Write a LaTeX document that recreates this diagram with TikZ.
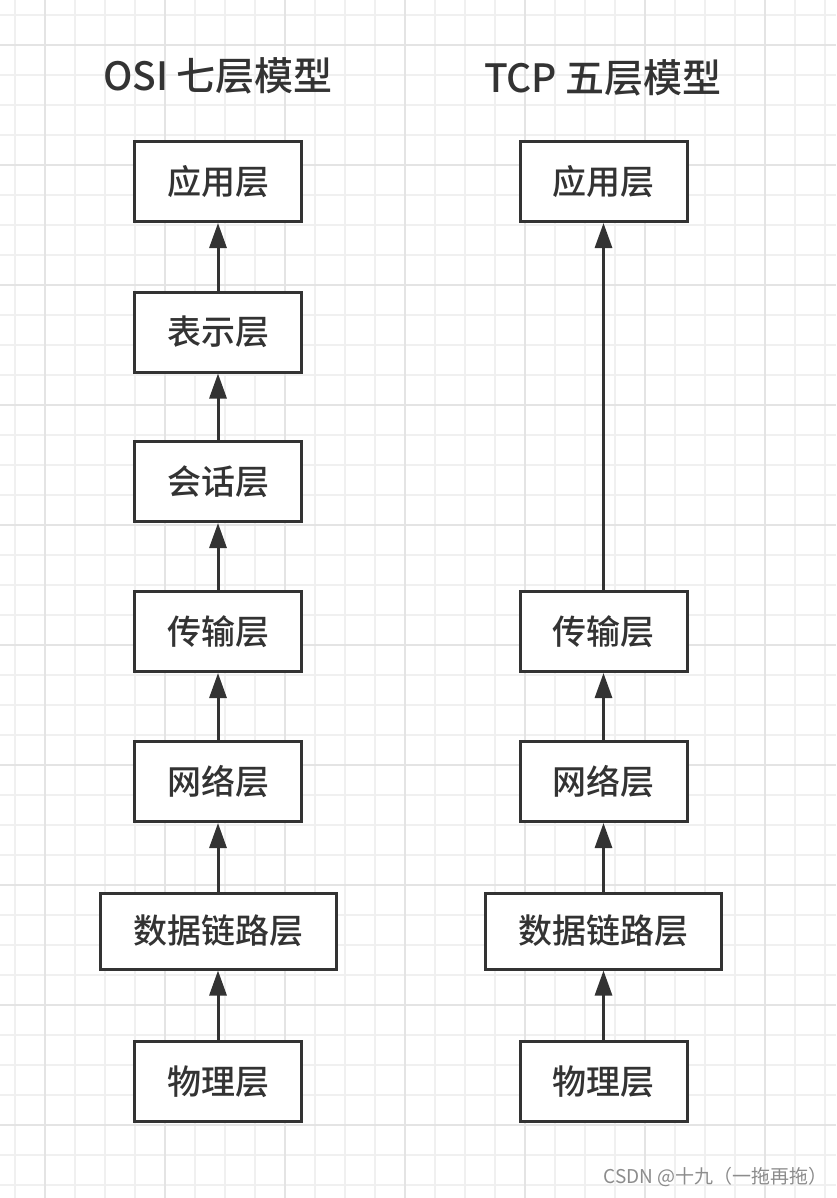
\documentclass[tikz,border=0pt]{standalone}
\usepackage{fontspec}
\setmainfont{Noto Sans CJK SC}
\newfontfamily\cjk{Noto Sans CJK SC}
\newfontfamily\cjkm{Noto Sans CJK SC Medium}
\usetikzlibrary{arrows.meta}
\definecolor{ink}{HTML}{333333}
\definecolor{gridminor}{HTML}{F0F0F0}
\definecolor{gridmajor}{HTML}{E4E4E4}
\definecolor{wm}{HTML}{8C8C8C}
\tikzset{
  layer/.style={draw=ink, line width=3pt, fill=white, minimum width=167pt, minimum height=80pt, inner sep=0pt, text=ink, font=\cjkm\fontsize{34}{38}\selectfont},
  widelayer/.style={layer, minimum width=236pt, minimum height=76pt},
  title/.style={text=ink, font=\cjkm\fontsize{39}{44}\selectfont, inner sep=0pt},
  up/.style={draw=ink, line width=3pt, -{Triangle[length=25pt,width=17pt]}},
}
\begin{document}
\begin{tikzpicture}[x=1pt,y=-1pt]
\fill[white] (0,0) rectangle (836,1198);
\useasboundingbox (0,0) rectangle (836,1198);
\foreach \i in {0,...,27} {\draw[gridminor, line width=1.5pt] ({15+30*\i},0) -- ({15+30*\i},1198);}
\foreach \j in {0,...,39} {\draw[gridminor, line width=1.5pt] (0,{15+30*\j}) -- (836,{15+30*\j});}
\foreach \i in {0,...,6} {\draw[gridmajor, line width=1.5pt] ({45+120*\i},0) -- ({45+120*\i},1198);}
\foreach \j in {0,...,9} {\draw[gridmajor, line width=1.5pt] (0,{45+120*\j}) -- (836,{45+120*\j});}

\node[title] (t1) at (218,76) {OSI 七层模型};
\node[title] (t2) at (603,78) {TCP 五层模型};

\node[layer] (o7) at (218,181.5) {应用层};
\node[layer] (o6) at (218,332) {表示层};
\node[layer] (o5) at (218,481.5) {会话层};
\node[layer] (o4) at (218,631.5) {传输层};
\node[layer] (o3) at (218,781.5) {网络层};
\node[widelayer] (o2) at (218,931) {数据链路层};
\node[layer] (o1) at (218,1081.5) {物理层};

\node[layer] (p5) at (603.5,181.5) {应用层};
\node[layer] (p4) at (603.5,631.5) {传输层};
\node[layer] (p3) at (603.5,781.5) {网络层};
\node[widelayer] (p2) at (603.5,931) {数据链路层};
\node[layer] (p1) at (603.5,1081.5) {物理层};

\draw[up] (o1) -- (o2);
\draw[up] (o2) -- (o3);
\draw[up] (o3) -- (o4);
\draw[up] (o4) -- (o5);
\draw[up] (o5) -- (o6);
\draw[up] (o6) -- (o7);

\draw[up] (p1) -- (p2);
\draw[up] (p2) -- (p3);
\draw[up] (p3) -- (p4);
\draw[up] (p4) -- (p5);

\node[anchor=east, text=wm, inner sep=0pt, font=\cjk\fontsize{19}{21}\selectfont] (wm) at (828,1177) {CSDN @十九（一拖再拖）};
\end{tikzpicture}
\end{document}
